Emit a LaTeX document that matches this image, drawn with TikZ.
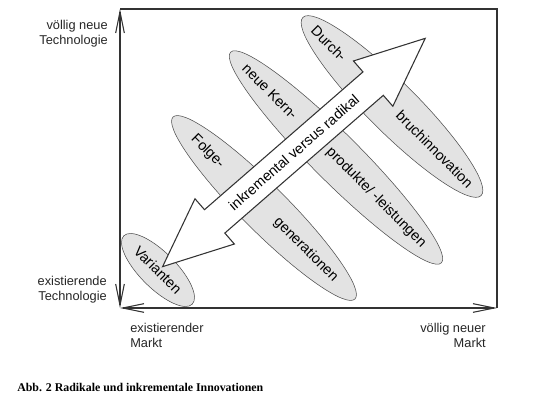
\documentclass[tikz,border=0pt]{standalone}
\usepackage{fontspec}
\setmainfont{Liberation Sans}
\newfontfamily\capfont{Liberation Serif}
\usetikzlibrary{shapes.geometric, arrows.meta, calc}

\begin{document}
\begin{tikzpicture}[x=0.75pt, y=0.75pt,
    blob/.style={ellipse, draw=black!70, fill=gray!22, inner sep=0pt, outer sep=0pt, rotate=-45},
    word/.style={font=\fontsize{10.8}{13}\selectfont, inner sep=0pt},
    axislabel/.style={font=\fontsize{9.6}{11.25}\selectfont, inner sep=0pt, text=black!85},
    barb/.tip={Straight Barb[length=16pt, width=6.5pt]}]
  \useasboundingbox (0,0) rectangle (557,407);

  \coordinate (o) at (120,99);
  \coordinate (tl) at (120,398);
  \coordinate (tr) at (497,398);
  \coordinate (br) at (497,99);

  \begin{scope}[black!80, line width=0.8pt]
    \draw (tl) -- (tr) -- (br);
    \draw [barb-barb] (o) -- (tl);
    \draw [barb-barb] (o) -- (br);
  \end{scope}

  \node [axislabel, align=right, anchor=north east] (newtech) at (108,387) {völlig neue\\Technologie};
  \node [axislabel, align=right, anchor=north east] (oldtech) at (107,131.3) {existierende\\Technologie};
  \node [axislabel, align=left, anchor=north west] (oldmarket) at (130,83.6) {existierender\\Markt};
  \node [axislabel, align=right, anchor=north east] (newmarket) at (486,83.6) {völlig neuer\\Markt};

  \begin{scope}
    \node [blob, minimum width=72.6pt, minimum height=27pt] (var) at (158,137) {};
    \node [blob, minimum width=193pt, minimum height=34.5pt] (folge) at (264,199) {};
    \node [blob, minimum width=223.5pt, minimum height=36pt] (kern) at (336,249.5) {};
    \node [blob, minimum width=189pt, minimum height=37.5pt] (durch) at (392,300.5) {};
  \end{scope}

  \begin{scope}[shift={(293.9,254.5)}, rotate=41]
    \draw [fill=white, draw=black!80, line width=0.8pt, line join=miter]
      (174,0) -- (105,30) -- (105,15.5) -- (-105,15.5) -- (-105,30) -- (-174,0)
      -- (-105,-30) -- (-105,-15.5) -- (105,-15.5) -- (105,-30) -- cycle;
  \end{scope}
  \node [word, rotate=41] (trend) at (293.9,254.5) {inkremental versus radikal};

  \begin{scope}[every node/.style={word, rotate=-45}]
    \node (varA) at (var.center) {Varianten};
    \node (folgeA) at ($(folge.west)!0.19!(folge.east)$) {Folge-};
    \node (folgeB) at ($(folge.west)!0.73!(folge.east)$) {generationen};
    \node (kernA) at ($(kern.west)!0.187!(kern.east)$) {neue Kern-};
    \node (kernB) at ($(kern.west)!0.69!(kern.east)$) {produkte/ -leistungen};
    \node (durchA) at ($(durch.west)!0.146!(durch.east)$) {Durch-};
    \node (durchB) at ($(durch.west)!0.74!(durch.east)$) {bruchinnovation};
  \end{scope}

  \node [anchor=base west, inner sep=0pt, font=\capfont\bfseries\fontsize{8.9}{10}\selectfont] (caption) at (17,15) {Abb. 2 Radikale und inkrementale Innovationen};
\end{tikzpicture}
\end{document}
